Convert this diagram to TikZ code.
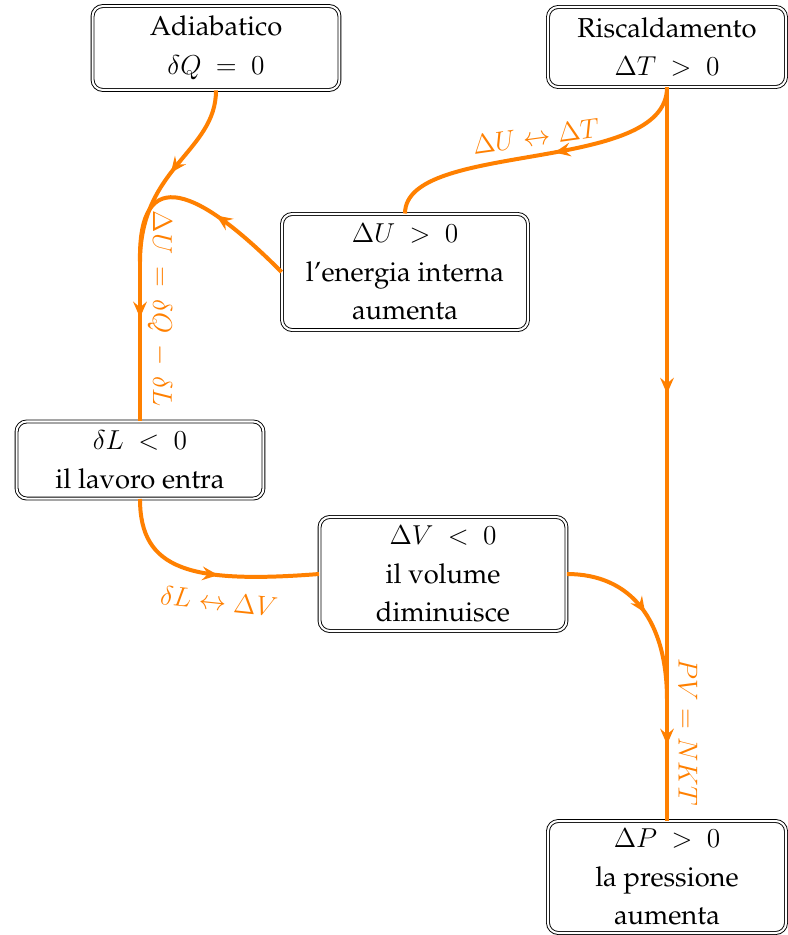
\documentclass[tikz,border=0pt]{standalone}
\usepackage[T1]{fontenc}
\renewcommand{\rmdefault}{ppl}
\usetikzlibrary{arrows.meta,decorations.markings}
\begin{document}
\begin{tikzpicture}[x=0.4386pt,y=-0.4386pt,
  box/.style={draw=black, double=white, double distance=0.9pt, line width=0.4pt,
    rounded corners=4.5pt, align=center, inner sep=0pt,
    font=\fontsize{12}{17}\selectfont},
  flow/.style={draw=orange, line width=1.75pt},
  lab/.style={text=orange, font=\fontsize{12}{14}\selectfont, inner sep=0pt},
  arrowat/.style={postaction={decorate}, decoration={markings,
    mark=at position #1 with {\arrow{Stealth[length=7pt,width=6pt,inset=2.5pt]}}}}]
\useasboundingbox (0,0) rectangle (787,935);
\fill[white] (0,0) rectangle (787,935);

\node[box, minimum width=108.3pt, minimum height=36.8pt] (adia) at (216,48) {Adiabatico\\ $\delta Q\ =\ 0$};
\node[box, minimum width=104.4pt, minimum height=35.1pt] (risc) at (667,47) {Riscaldamento\\ $\Delta T\ >\ 0$};
\node[box, minimum width=107.9pt, minimum height=50.9pt] (du) at (405,272) {$\Delta U\ >\ 0$\\ l'energia interna\\ aumenta};
\node[box, minimum width=108.3pt, minimum height=33.8pt] (dl) at (140,460) {$\delta L\ <\ 0$\\ il lavoro entra};
\node[box, minimum width=108.3pt, minimum height=50pt] (dv) at (443,574) {$\Delta V\ <\ 0$\\ il volume\\ diminuisce};
\node[box, minimum width=104.4pt, minimum height=49.1pt] (dp) at (667,877) {$\Delta P\ >\ 0$\\ la pressione\\ aumenta};

\coordinate (J) at (140,262);
\coordinate (K) at (667,700);

\draw[flow, arrowat=0.5] (adia.south) .. controls (216,152) and (140,167) .. (J);
\draw[flow, arrowat=0.4] (du.west) .. controls (200,190) and (138,160) .. (J);
\draw[flow, arrowat=0.35] (J) -- (dl.north);
\node[lab, rotate=-90] (l1) at (160,309) {$\Delta U \,=\, \delta Q \,-\, \delta L$};

\draw[flow, arrowat=0.45] (risc.south) .. controls (667,175) and (405,140) .. (du.north);
\node[lab, rotate=8] (l2) at (536,136) {$\Delta U \leftrightarrow \Delta T$};

\draw[flow, arrowat=0.5] (risc.south) -- (K);
\draw[flow, arrowat=0.5] (dv.east) .. controls +(64,0) and +(0,-80) .. (K);
\draw[flow, arrowat=0.37] (K) -- (dp.north);
\node[lab, rotate=-90] (l3) at (688,732) {$PV = NKT$};

\draw[flow, arrowat=0.55] (dl.south) .. controls +(0,71) and +(-129,10) .. (dv.west);
\node[lab, rotate=-6] (l4) at (219,601) {$\delta L \leftrightarrow \Delta V$};
\end{tikzpicture}
\end{document}
